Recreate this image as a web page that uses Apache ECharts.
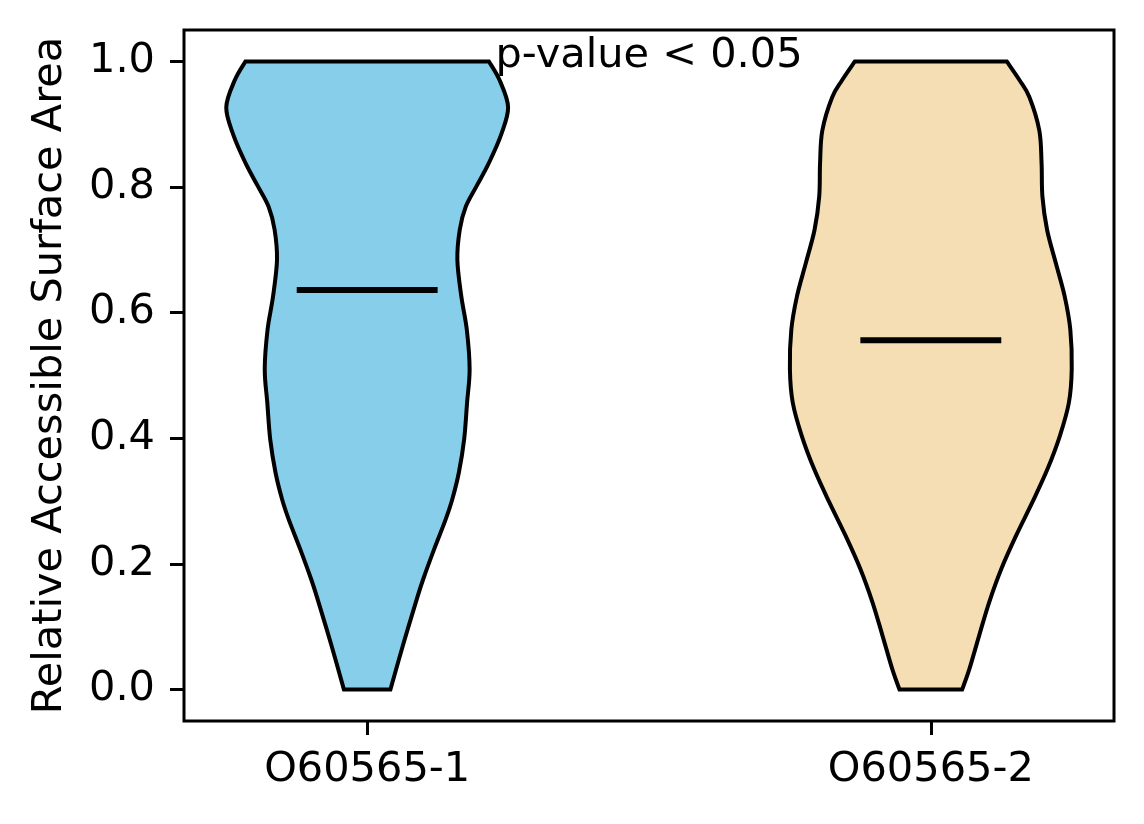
<!DOCTYPE html>
<html>
<head>
<meta charset="utf-8">
<title>Violin RSA</title>
<script src="https://cdn.jsdelivr.net/npm/echarts@6/dist/echarts.min.js"></script>
<style>
  html, body { margin: 0; padding: 0; background: #fff; }
  #main { width: 1144px; height: 824px; }
</style>
</head>
<body>
<div id="main"></div>
<script>
// ---- data
var categories = ["O60565-1", "O60565-2"];
var positions = [1, 2];
var medians = [0.636, 0.556];
var yTicks = [0, 0.2, 0.4, 0.6, 0.8, 1.0];

// violin outline: levels (RSA) and relative half width (1 = widest)
var levels1 = [0.000, 0.073, 0.144, 0.176, 0.224, 0.271, 0.303, 0.346, 0.398, 0.457, 0.510,
               0.573, 0.626, 0.684, 0.732, 0.769, 0.803, 0.838, 0.883, 0.927, 0.970, 1.000];
var widths1 = [0.165, 0.257, 0.352, 0.398, 0.476, 0.557, 0.604, 0.651, 0.688, 0.709, 0.727,
               0.707, 0.668, 0.640, 0.657, 0.700, 0.780, 0.863, 0.950, 1.000, 0.940, 0.864];
var levels2 = [0.000, 0.033, 0.086, 0.139, 0.192, 0.245, 0.298, 0.351, 0.404, 0.457, 0.510,
               0.573, 0.626, 0.679, 0.732, 0.785, 0.838, 0.890, 0.943, 0.970, 1.000];
var widths2 = [0.222, 0.274, 0.343, 0.414, 0.500, 0.605, 0.720, 0.828, 0.916, 0.980, 1.000,
               0.990, 0.950, 0.887, 0.825, 0.792, 0.786, 0.770, 0.700, 0.630, 0.539];

var violins = [
    { levels: levels1, widths: widths1, color: "#87CEEB" },
    { levels: levels2, widths: widths2, color: "#F5DEB3" }
];

var FONT = "DejaVu Sans";
var FS = 41.5;
var HALF = 0.25; // half of matplotlib default widths=0.5

// smooth path through pixel points (catmull-rom -> cubic bezier)
function curveTo(pts) {
    var d = "";
    for (var i = 0; i < pts.length - 1; i++) {
        var p0 = pts[i - 1] || pts[i];
        var p1 = pts[i];
        var p2 = pts[i + 1];
        var p3 = pts[i + 2] || p2;
        var c1x = p1[0] + (p2[0] - p0[0]) / 6, c1y = p1[1] + (p2[1] - p0[1]) / 6;
        var c2x = p2[0] - (p3[0] - p1[0]) / 6, c2y = p2[1] - (p3[1] - p1[1]) / 6;
        d += " C" + c1x + " " + c1y + " " + c2x + " " + c2y + " " + p2[0] + " " + p2[1];
    }
    return d;
}

var myChart = echarts.init(document.getElementById("main"));

var option = {
    animation: false,
    grid: {
        left: 184, right: 30, top: 30, bottom: 103,
        show: true, borderColor: "#000", borderWidth: 3, backgroundColor: "#fff"
    },
    xAxis: {
        type: "value",
        min: 0.675,
        max: 2.325,
        axisLine: { show: false, onZero: false },
        splitLine: { show: false },
        axisTick: {
            show: true, length: 14, inside: false,
            customValues: positions,
            lineStyle: { color: "#000", width: 3 }
        },
        axisLabel: {
            customValues: positions,
            margin: 28,
            color: "#000",
            fontSize: FS,
            fontFamily: FONT,
            formatter: function (v) {
                var i = positions.indexOf(v);
                return i >= 0 ? categories[i] : "";
            }
        }
    },
    yAxis: {
        type: "value",
        min: -0.05,
        max: 1.05,
        name: "Relative Accessible Surface Area",
        nameLocation: "middle",
        nameGap: 113,
        nameRotate: 90,
        nameTextStyle: { color: "#000", fontSize: FS, fontFamily: FONT },
        axisLine: { show: false, onZero: false },
        splitLine: { show: false },
        axisTick: {
            show: true, length: 14, inside: false,
            customValues: yTicks,
            lineStyle: { color: "#000", width: 3 }
        },
        axisLabel: {
            customValues: yTicks,
            margin: 29,
            color: "#000",
            fontSize: FS,
            fontFamily: FONT,
            formatter: function (v) { return v.toFixed(1); }
        }
    },
    series: [
        {
            type: "custom",
            data: positions.map(function (p, i) { return [p, medians[i]]; }),
            renderItem: function (params, api) {
                var i = params.dataIndex;
                var v = violins[i];
                var pos = positions[i];
                var left = [], right = [];
                for (var j = 0; j < v.levels.length; j++) {
                    left.push(api.coord([pos - v.widths[j] * HALF, v.levels[j]]));
                }
                for (var k = v.levels.length - 1; k >= 0; k--) {
                    right.push(api.coord([pos + v.widths[k] * HALF, v.levels[k]]));
                }
                var d = "M" + left[0][0] + " " + left[0][1] + curveTo(left) +
                        " L" + right[0][0] + " " + right[0][1] + curveTo(right) + " Z";
                var a = api.coord([pos - HALF / 2, medians[i]]);
                var b = api.coord([pos + HALF / 2, medians[i]]);
                return {
                    type: "group",
                    children: [
                        {
                            type: "path",
                            shape: { pathData: d },
                            style: { fill: v.color, stroke: "#000", lineWidth: 4, lineJoin: "miter" }
                        },
                        {
                            type: "line",
                            shape: { x1: a[0], y1: a[1], x2: b[0], y2: b[1] },
                            style: { stroke: "#000", lineWidth: 6 }
                        }
                    ]
                };
            },
            z: 2
        },
        {
            // ---- annotation
            type: "custom",
            data: [[1.5, 1.009]],
            renderItem: function (params, api) {
                var c = api.coord([api.value(0), api.value(1)]);
                return {
                    type: "text",
                    x: c[0], y: c[1],
                    style: {
                        text: "p-value < 0.05",
                        fill: "#000",
                        fontSize: FS,
                        fontFamily: FONT,
                        align: "center",
                        verticalAlign: "middle"
                    }
                };
            },
            z: 5
        }
    ]
};
myChart.setOption(option);
</script>
</body>
</html>
